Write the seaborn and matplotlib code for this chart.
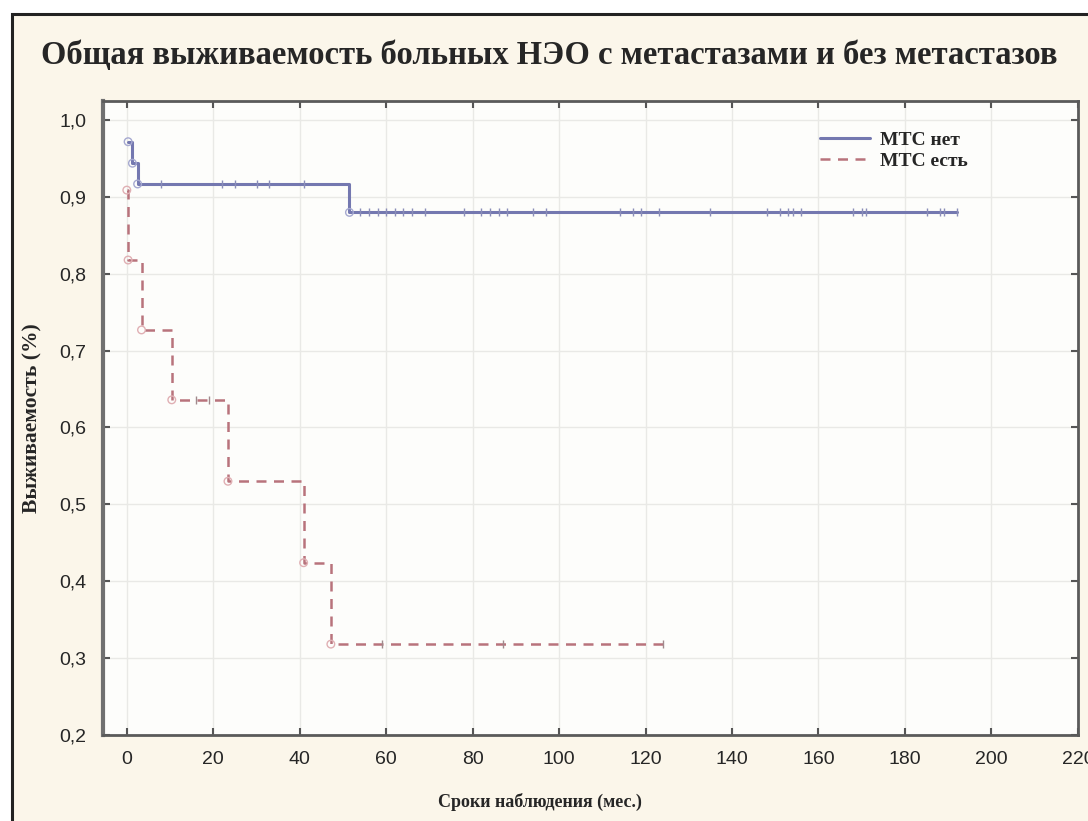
import numpy as np
import pandas as pd
import matplotlib
matplotlib.use("Agg")
import matplotlib.pyplot as plt
import seaborn as sns
from matplotlib.patches import Rectangle

# ---- data ----
title = "Общая выживаемость больных НЭО с метастазами и без метастазов"
xlabel = "Сроки наблюдения (мес.)"
ylabel = "Выживаемость (%)"
labels = ["МТС нет", "МТС есть"]

# group 1: no metastases (step times / survival after each event)
no_mts_times = [0.3, 1.3, 2.5, 51.5]
no_mts_surv = [0.972, 0.944, 0.917, 0.880]
no_mts_end = 192.0
no_mts_censored = [8, 22, 25, 30, 33, 41, 54, 56, 58, 60, 62, 64, 66, 69, 78, 82,
                   84, 86, 88, 94, 97, 114, 117, 119, 123, 135, 148, 151, 153, 154,
                   156, 168, 170, 171, 185, 188, 189, 192]

# group 2: with metastases
mts_times = [0.0, 0.3, 3.4, 10.4, 23.4, 40.9, 47.2]
mts_surv = [0.909, 0.818, 0.727, 0.636, 0.530, 0.424, 0.318]
mts_end = 124.5
mts_censored = [16, 19, 59, 87, 124]

xticks = list(range(0, 221, 20))
yticks = [0.2, 0.3, 0.4, 0.5, 0.6, 0.7, 0.8, 0.9, 1.0]

blue = "#7478b0"
red = "#b8737c"

sns.set_theme(style="white")
plt.rcParams["font.family"] = ["Liberation Serif", "DejaVu Serif"]

fig = plt.figure(figsize=(10.88, 8.21), dpi=100)
fig.patch.set_facecolor("#ffffff")
# beige panel with black frame
fig.patches.append(Rectangle((0.011, -0.01), 1.0, 0.993, transform=fig.transFigure,
                             facecolor="#fbf6ea", edgecolor="#222222", linewidth=2.2,
                             zorder=-10))

ax = fig.add_axes([0.0947, 0.105, 0.896, 0.772])
ax.set_facecolor("#fdfdfb")


def step_frame(times, surv, end):
    t = list(times) + [end]
    s = list(surv) + [surv[-1]]
    return pd.DataFrame({"t": t, "s": s})


def surv_at(times, surv, ts):
    idx = np.searchsorted(np.array(times), np.array(ts), side="right") - 1
    return np.array(surv)[idx]


d1 = step_frame(no_mts_times, no_mts_surv, no_mts_end)
d2 = step_frame(mts_times, mts_surv, mts_end)

sns.lineplot(data=d1, x="t", y="s", ax=ax, drawstyle="steps-post", color=blue,
             linewidth=2.2, estimator=None, sort=False, label=labels[0])
sns.lineplot(data=d2, x="t", y="s", ax=ax, drawstyle="steps-post", color=red,
             linewidth=1.8, linestyle=(0, (4, 3)), estimator=None, sort=False,
             label=labels[1])

# event markers (open circles)
sns.scatterplot(x=no_mts_times, y=no_mts_surv, ax=ax, marker="o", s=30,
                facecolor="none", edgecolor="#a6a9d0", linewidth=1.0, zorder=5)
sns.scatterplot(x=mts_times, y=mts_surv, ax=ax, marker="o", s=30,
                facecolor="none", edgecolor="#e0b0b4", linewidth=1.0, zorder=5)

# censored markers
sns.scatterplot(x=no_mts_censored, y=surv_at(no_mts_times, no_mts_surv, no_mts_censored),
                ax=ax, marker="|", s=40, color="#8a8db8", linewidth=1.0, zorder=5)
sns.scatterplot(x=mts_censored, y=surv_at(mts_times, mts_surv, mts_censored),
                ax=ax, marker="|", s=40, color="#a08a8c", linewidth=1.0, zorder=5)

ax.set_xlim(-5.5, 220)
ax.set_ylim(0.2, 1.025)
ax.set_xticks(xticks)
ax.set_yticks(yticks)
ax.set_xticklabels([str(v) for v in xticks], fontfamily="Liberation Sans", fontsize=14)
ax.set_yticklabels([f"{v:.1f}".replace(".", ",") for v in yticks],
                   fontfamily="Liberation Sans", fontsize=14)
ax.grid(True, color="#e9e9e6", linewidth=1.0)
ax.tick_params(axis="both", direction="in", length=5, width=1.5, color="#555555",
               top=True, right=True, bottom=True, left=True, pad=12)
for sp in ax.spines.values():
    sp.set_color("#5a5a5a")
    sp.set_linewidth(2.0)
ax.spines["left"].set_linewidth(3.0)
ax.spines["left"].set_color("#707070")

ax.set_xlabel("")
ax.set_ylabel(ylabel, fontsize=15.5, fontweight="bold", labelpad=12)
fig.text(540 / 1088, 1 - 802 / 821, xlabel, ha="center", va="center",
         fontsize=13, fontweight="bold")
fig.text(0.505, 1 - 56 / 821, title, ha="center", va="center", fontsize=23.5,
         fontweight="bold")

leg = ax.legend(loc="upper right", bbox_to_anchor=(0.905, 0.98), frameon=False,
                prop={"family": "Liberation Serif", "weight": "bold", "size": 14},
                handlelength=2.6, labelspacing=0.2, handletextpad=0.5)

fig.savefig("out.png", dpi=100, facecolor=fig.get_facecolor())
